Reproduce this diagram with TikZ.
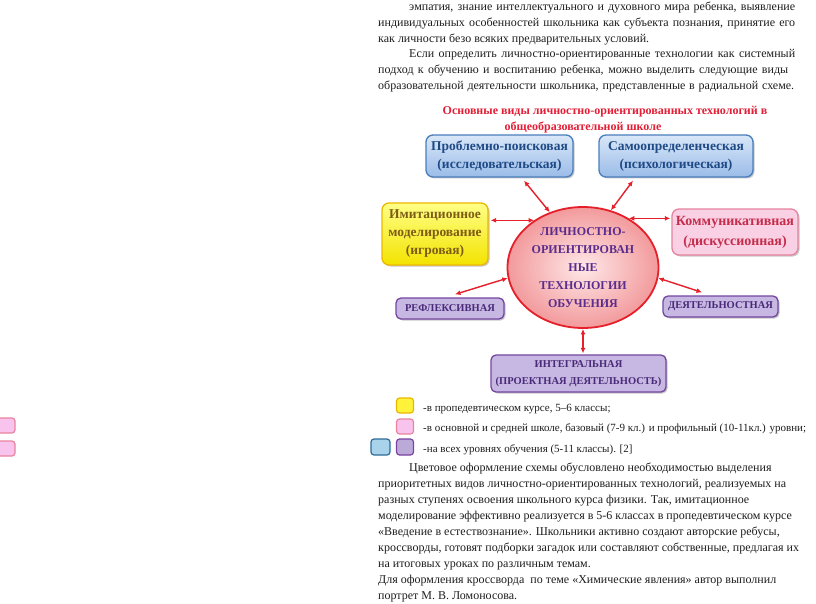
\documentclass[tikz,border=0pt]{standalone}
\usepackage{fontspec}
\setmainfont{Liberation Serif}
\usetikzlibrary{arrows.meta,shapes.geometric,shadows}
\definecolor{bodytxt}{HTML}{1E1E1E}
\definecolor{titlered}{HTML}{E21F36}
\definecolor{arrred}{HTML}{E5202B}
\definecolor{bluetop}{HTML}{D9E7F8}
\definecolor{bluebot}{HTML}{9BBCE8}
\definecolor{blueedge}{HTML}{4A7EBB}
\definecolor{bluetxt}{HTML}{1F4A86}
\definecolor{yeltop}{HTML}{FFFF86}
\definecolor{yelbot}{HTML}{F3E300}
\definecolor{yeledge}{HTML}{EDB800}
\definecolor{yeltxt}{HTML}{7D5C16}
\definecolor{pinkfill}{HTML}{FAD0E4}
\definecolor{pinkedge}{HTML}{E7849F}
\definecolor{pinktxt}{HTML}{C42D4C}
\definecolor{purpfill}{HTML}{C6B8E2}
\definecolor{purpedge}{HTML}{74469F}
\definecolor{purptxt}{HTML}{4A2A78}
\definecolor{ellin}{HTML}{FFE8E8}
\definecolor{ellout}{HTML}{F29A9C}
\definecolor{elltxt}{HTML}{5A2C8C}
\definecolor{lgyelfill}{HTML}{FFF23A}
\definecolor{lgyeledge}{HTML}{E8B800}
\definecolor{lgpinkfill}{HTML}{F8C4EE}
\definecolor{lgpinkedge}{HTML}{E9839E}
\definecolor{lgbluefill}{HTML}{A8D3EA}
\definecolor{lgblueedge}{HTML}{2F6C9A}
\definecolor{lgpurpfill}{HTML}{BBAAD8}
\definecolor{lgpurpedge}{HTML}{7A42A2}
\tikzset{
  bodyline/.style={anchor=base west,inner sep=0pt,text=bodytxt,font=\fontsize{12}{14}\selectfont},
  titleline/.style={anchor=base,inner sep=0pt,text=titlered,font=\bfseries\fontsize{12}{15}\selectfont},
  shd/.style={drop shadow={shadow xshift=1.5pt,shadow yshift=-1.5pt,opacity=0.22,fill=black}},
  bluebox/.style={shd,rounded corners=7pt,draw=blueedge,line width=1.3pt,top color=bluetop,bottom color=bluebot,
    text=bluetxt,font=\bfseries\fontsize{13.5}{18}\selectfont,align=center,inner sep=0pt,minimum height=42pt},
  yelbox/.style={shd,rounded corners=7pt,draw=yeledge,line width=1.3pt,top color=yeltop,bottom color=yelbot,
    text=yeltxt,font=\bfseries\fontsize{13.5}{18}\selectfont,align=center,inner sep=0pt,minimum width=106pt,minimum height=62pt},
  pinkbox/.style={shd,rounded corners=7pt,draw=pinkedge,line width=1.3pt,fill=pinkfill,
    text=pinktxt,font=\bfseries\fontsize{14}{20}\selectfont,align=center,inner sep=0pt,minimum width=126pt,minimum height=46pt},
  purpbox/.style={shd,rounded corners=5pt,draw=purpedge,line width=1.3pt,fill=purpfill,
    text=purptxt,font=\bfseries\fontsize{10.5}{17}\selectfont,align=center,inner sep=0pt},
  ellnode/.style={ellipse,draw=arrred,line width=1.8pt,inner color=ellin,outer color=ellout,
    text=elltxt,font=\bfseries\fontsize{12}{18.2}\selectfont,align=center,inner sep=0pt,minimum width=151pt,minimum height=121pt},
  arr/.style={draw=arrred,line width=1.4pt,{Latex[length=5.5pt,width=5pt]}-{Latex[length=5.5pt,width=5pt]}},
  lgsq/.style={rounded corners=3pt,line width=1.2pt,minimum width=17pt,minimum height=15pt,inner sep=0pt},
  lgtext/.style={anchor=base west,inner sep=0pt,text=bodytxt,font=\fontsize{11}{14}\selectfont}
}
\begin{document}
\begin{tikzpicture}[x=1pt,y=-1pt]
\useasboundingbox (0,0) rectangle (816,604);
\fill[white] (0,0) rectangle (816,604);

% top paragraph
\node[bodyline] (p1) at (409,11) {\makebox[386pt][s]{эмпатия, знание интеллектуального и духовного мира ребенка, выявление}};
\node[bodyline] (p2) at (378,27) {\makebox[417pt][s]{индивидуальных особенностей школьника как субъекта познания, принятие его}};
\node[bodyline] (p3) at (378,43) {как личности безо всяких предварительных условий.};
\node[bodyline] (p4) at (409,58) {\makebox[386pt][s]{Если определить личностно-ориентированные технологии как системный}};
\node[bodyline] (p5) at (378,74) {\makebox[410pt][s]{подход к обучению и воспитанию ребенка, можно выделить следующие виды}};
\node[bodyline] (p6) at (378,90) {\makebox[416pt][s]{образовательной деятельности школьника, представленные в радиальной схеме.}};

% title
\node[titleline] (ti1) at (605,115) {Основные виды личностно-ориентированных технологий в};
\node[titleline] (ti2) at (583,131) {общеобразовательной школе};

% diagram nodes
\node[ellnode] (E) at (583,267.5) {ЛИЧНОСТНО-\\ОРИЕНТИРОВАН\\НЫЕ\\ТЕХНОЛОГИИ\\ОБУЧЕНИЯ};
\node[bluebox,minimum width=147pt] (b1) at (499.5,156) {Проблемно-поисковая\\(исследовательская)};
\node[bluebox,minimum width=154pt] (b2) at (676,156) {Самоопределенческая\\(психологическая)};
\node[yelbox] (y) at (435,234) {Имитационное\\моделирование\\(игровая)};
\node[pinkbox] (pk) at (735,232) {Коммуникативная\\(дискуссионная)};
\node[purpbox,minimum width=108pt,minimum height=21pt] (rf) at (450,308.5) {РЕФЛЕКСИВНАЯ};
\node[purpbox,minimum width=115pt,minimum height=21pt] (dt) at (720.5,306.5) {ДЕЯТЕЛЬНОСТНАЯ};
\node[purpbox,minimum width=175pt,minimum height=37pt] (ig) at (578.5,373.5) {ИНТЕГРАЛЬНАЯ\\(ПРОЕКТНАЯ ДЕЯТЕЛЬНОСТЬ)};

% connectors
\draw[arr] ([xshift=24.5pt,yshift=-3pt]b1.south) -- (E.121);
\draw[arr] ([xshift=-43pt,yshift=-3pt]b2.south) -- (E.64);
\draw[arr] ([xshift=2pt]y.east |- E.136) -- (E.136);
\draw[arr] (E.47) -- ([xshift=-1pt]pk.west |- E.47);
\draw[arr] (E.188) -- ([xshift=5pt,yshift=3pt]rf.north);
\draw[arr] (E.352) -- ([xshift=-18.5pt,yshift=3pt]dt.north);
\draw[arr] (E.south) -- ([yshift=1pt]E.south |- ig.north);

% legend
\node[lgsq,draw=lgyeledge,fill=lgyelfill] (q1) at (405,405.5) {};
\node[lgsq,draw=lgpinkedge,fill=lgpinkfill] (q2) at (405,426.5) {};
\node[lgsq,draw=lgblueedge,fill=lgbluefill,minimum width=19pt,minimum height=16pt] (q3) at (380.5,447) {};
\node[lgsq,draw=lgpurpedge,fill=lgpurpfill,minimum height=16pt] (q4) at (405,447) {};
\node[lgsq,draw=lgpinkedge,fill=lgpinkfill,minimum width=18pt] (q5) at (6,425.5) {};
\node[lgsq,draw=lgpinkedge,fill=lgpinkfill,minimum width=18pt] (q6) at (6,448.5) {};
\node[lgtext] (l1) at (423,411) {-в пропедевтическом курсе, 5–6 классы;};
\node[lgtext] (l2) at (423,431) {-в основной и средней школе, базовый (7-9 кл.) и профильный (10-11кл.) уровни;};
\node[lgtext] (l3) at (423,452) {-на всех уровнях обучения (5-11 классы). [2]};

% bottom paragraph
\node[bodyline] (s1) at (409,471) {Цветовое оформление схемы обусловлено необходимостью выделения};
\node[bodyline] (s2) at (378,487) {приоритетных видов личностно-ориентированных технологий, реализуемых на};
\node[bodyline] (s3) at (378,503) {разных ступенях освоения школьного курса физики. Так, имитационное};
\node[bodyline] (s4) at (378,519) {моделирование эффективно реализуется в 5-6 классах в пропедевтическом курсе};
\node[bodyline] (s5) at (378,535) {«Введение в естествознание». Школьники активно создают авторские ребусы,};
\node[bodyline] (s6) at (378,551) {кроссворды, готовят подборки загадок или составляют собственные, предлагая их};
\node[bodyline] (s7) at (378,567) {на итоговых уроках по различным темам.};
\node[bodyline] (s8) at (378,583) {Для оформления кроссворда\ \ по теме «Химические явления» автор выполнил};
\node[bodyline] (s9) at (378,599) {портрет М. В. Ломоносова.};
\end{tikzpicture}
\end{document}
